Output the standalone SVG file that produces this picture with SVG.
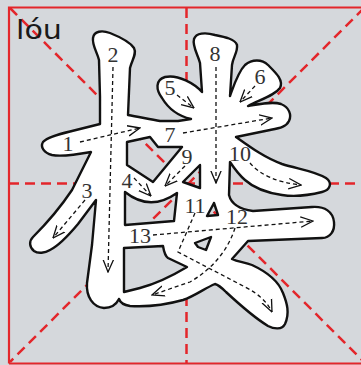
<svg xmlns="http://www.w3.org/2000/svg" width="361" height="365" viewBox="0 0 361 365">
<style>
.guide{stroke:#e3262b;stroke-width:2.5;stroke-dasharray:10 6;fill:none}
.frame{stroke:#e3262b;stroke-width:2.2;fill:none}
.glyph{fill:#fff;stroke:#111;stroke-width:2.4;stroke-linejoin:round;fill-rule:evenodd}
.arr{fill:none;stroke:#111;stroke-width:1.3;stroke-dasharray:4 3}
.num{font-family:"Liberation Serif","DejaVu Serif",serif;font-size:22px;fill:#333;text-anchor:middle}
.py{font-family:"DejaVu Sans","Noto Sans",sans-serif;font-size:27px;fill:#1a1a1a}
</style>
<defs>
<marker id="ah" viewBox="0 0 10 10" refX="9.5" refY="5" markerWidth="13" markerHeight="13" markerUnits="userSpaceOnUse" orient="auto">
<path d="M0,1 L9.5,5 L0,9" fill="none" stroke="#111" stroke-width="1"/>
</marker>
</defs>
<rect x="0" y="0" width="361" height="365" fill="#d5d8dc"/>
<g id="grid">
<line class="guide" x1="186.5" y1="8" x2="186.5" y2="363"/>
<line class="guide" x1="9" y1="183.5" x2="364" y2="183.5"/>
<line class="guide" x1="10" y1="8" x2="364" y2="362"/>
<line class="guide" x1="364" y1="8" x2="10" y2="362"/>
<path class="frame" d="M9,363.5 L9,7.5 L364,7.5 M9,363.5 L364,363.5"/>
</g>
<text class="py" x="16" y="39" textLength="46" lengthAdjust="spacingAndGlyphs">lóu</text>
<g id="glyph">
<path class="glyph" d="M93,38 C94,31 102,30 110,33 C120,37 130,42 134,48 C137,54 132,60 130,68 L128,115 C138,117 150,119 160,121 L178,121 L191,119 C178,116 168,108 162,98 C156,90 155,80 165,77 C178,74 195,84 202,92 L200,63 C198,55 192,46 194,39 C196,33 205,32 215,35 C225,37 235,39 237,45 C238,52 233,57 232,65 L230,96 C234,85 238,72 245,65 C252,59 262,59 268,65 C275,72 284,80 280,88 C275,95 262,99 248,106 C260,104 272,101 281,104 C289,107 292,115 289,121 C286,127 280,128 270,130 L236,137 C250,147 265,158 282,164 C298,169 315,171 326,178 C333,183 330,190 322,192 C310,195 295,197 282,195 C268,193 255,189 245,180 C238,174 234,168 230,162 L229,195 C231,203 238,209 253,211 L312,207 C325,206 333,212 334,222 C335,231 330,238 322,238 L248,241 L232,259 C238,262 244,262 252,265 C265,271 278,280 283,293 C287,303 290,313 285,324 C282,330 274,329 268,326 C255,318 240,305 226,292 C222,288 219,285 215,284 C205,288 195,296 183,300 C165,305 145,307 130,306 C124,305 120,302 119,299 C116,305 110,308 104,308 C93,307 86,297 87,283 L92,245 L96,200 L78,224 C68,236 58,246 50,250 C45,253 38,254 34,251 C29,247 29,241 33,237 C45,225 60,208 72,190 L91,152 C80,154 62,157 52,155 C44,153 40,147 43,142 C47,137 60,134 72,131 L100,124 L100,97 L99,60 C97,52 92,45 93,38 Z
M127,142 L150,137 L158,147 L182,147 L153,182 L127,165 Z
M125,192 Q150,212 177,193 L174,221 L125,225 Z
M124,248 L163,246 C164,252 165,256 168,258 L187,267 C172,276 155,284 140,288 L124,292 Z
M200,165 L183,182 L200,188 Z
M214,203 L207,216 L218,215 Z
M195,243 L211,237 L206,250 L198,247 Z"/>
</g>
<g id="connectors">
<g id="s1"><path class="arr" marker-end="url(#ah)" d="M80,142 L140,128"/><text class="num" x="68" y="151">1</text></g>
<g id="s2"><path class="arr" marker-end="url(#ah)" d="M113,67 L108,272"/><text class="num" x="113" y="62">2</text></g>
<g id="s3"><path class="arr" marker-end="url(#ah)" d="M85,200 L53,238"/><text class="num" x="87" y="198">3</text></g>
<g id="s4"><path class="arr" marker-end="url(#ah)" d="M134,178 L151,196"/><text class="num" x="127" y="188">4</text></g>
<g id="s5"><path class="arr" marker-end="url(#ah)" d="M177,95 L194,108"/><text class="num" x="170" y="95">5</text></g>
<g id="s6"><path class="arr" marker-end="url(#ah)" d="M255,86 L240,102"/><text class="num" x="260" y="84">6</text></g>
<g id="s7"><path class="arr" marker-end="url(#ah)" d="M183,133 L272,118"/><text class="num" x="170" y="142">7</text></g>
<g id="s8"><path class="arr" marker-end="url(#ah)" d="M216,67 L216,183"/><text class="num" x="215" y="61">8</text></g>
<g id="s9"><path class="arr" marker-end="url(#ah)" d="M185,166 L165,186"/><text class="num" x="187" y="164">9</text></g>
<g id="s10"><path class="arr" marker-end="url(#ah)" d="M250,163 Q265,181 301,185"/><text class="num" x="240" y="161">10</text></g>
<g id="s11"><path class="arr" marker-end="url(#ah)" d="M195,213 L178,252 L245,287 Q265,297 272,312"/><text class="num" x="195" y="213">11</text></g>
<g id="s12"><path class="arr" marker-end="url(#ah)" d="M235,228 Q224,262 190,282 L152,295"/><text class="num" x="237" y="224">12</text></g>
<g id="s13"><path class="arr" marker-end="url(#ah)" d="M153,235 L313,221"/><text class="num" x="140" y="243">13</text></g>
</g>
</svg>
